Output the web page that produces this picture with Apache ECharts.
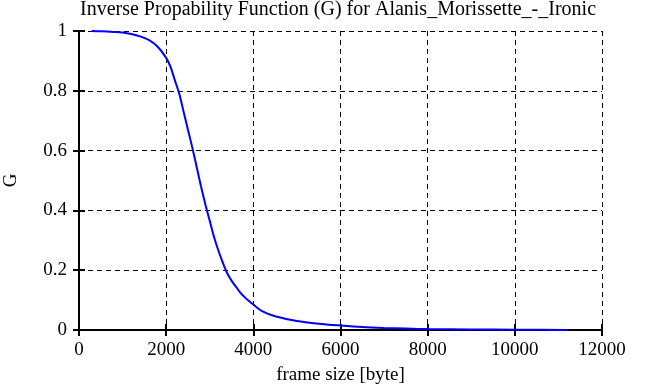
<!DOCTYPE html>
<html><head><meta charset="utf-8">
<script src="https://cdn.jsdelivr.net/npm/echarts@6/dist/echarts.min.js"></script>
<style>html,body{margin:0;padding:0;background:#fff}#c{width:668px;height:385px}</style>
</head><body><div id="c"></div>
<script>
var titleText = "Inverse Propability Function (G) for Alanis_Morissette_-_Ironic";
var xTicks = [0, 2000, 4000, 6000, 8000, 10000, 12000];
var yTicks = [0, 0.2, 0.4, 0.6, 0.8, 1];
var frameSize = [290, 500, 800, 1000, 1200, 1400, 1600, 1800, 2000, 2100, 2200, 2300, 2400, 2500, 2600, 2700, 2800, 2900, 3000, 3100, 3200, 3300, 3400, 3500, 3600, 3700, 3800, 3900, 4000, 4200, 4500, 5000, 5500, 6000, 6500, 7000, 7500, 8000, 9000, 10000, 11200];
var gValue = [1.0, 0.999, 0.997, 0.995, 0.99, 0.982, 0.97, 0.948, 0.91, 0.88, 0.835, 0.79, 0.73, 0.67, 0.61, 0.545, 0.48, 0.42, 0.365, 0.31, 0.265, 0.225, 0.19, 0.165, 0.145, 0.125, 0.11, 0.097, 0.085, 0.063, 0.046, 0.03, 0.021, 0.015, 0.01, 0.007, 0.005, 0.003, 0.002, 0.001, 0.0];

var pts = frameSize.map(function (x, i) { return [x, gValue[i]]; });
var font = "Liberation Serif";
var chart = echarts.init(document.getElementById('c'), null, {renderer: 'canvas'});
var xMin = xTicks[0], xMax = xTicks[xTicks.length - 1], xInt = xTicks[1] - xTicks[0];
var yMin = yTicks[0], yMax = yTicks[yTicks.length - 1], yInt = yTicks[1] - yTicks[0];
var axisLine = {show: true, lineStyle: {color: '#000', width: 2}};
var tick = {show: true, inside: true, length: 6, lineStyle: {color: '#000', width: 2}};
chart.setOption({
  animation: false,
  title: {text: titleText, left: 338, top: 0, padding: 0, textAlign: 'center',
    textStyle: {fontFamily: font, fontSize: 20, fontWeight: 'normal', color: '#000', lineHeight: 20}},
  grid: {left: 79, right: 66, top: 31, bottom: 55, containLabel: false, outerBoundsMode: 'none'},
  xAxis: [{
    type: 'value', min: xMin, max: xMax, interval: xInt, position: 'bottom',
    name: 'frame size [byte]', nameLocation: 'middle', nameGap: 36,
    nameTextStyle: {fontFamily: font, fontSize: 19, color: '#000'},
    axisLine: axisLine, axisTick: tick,
    axisLabel: {fontFamily: font, fontSize: 19, color: '#000', margin: 11,
      formatter: function (v) { return String(v); }},
    splitLine: {show: true, lineStyle: {color: '#000', type: [5, 4], width: 1}}
  }, {
    type: 'value', min: xMin, max: xMax, interval: xInt, position: 'top',
    axisLine: axisLine, axisTick: tick,
    axisLabel: {show: false}, splitLine: {show: false}
  }],
  yAxis: [{
    type: 'value', min: yMin, max: yMax, interval: yInt, position: 'left',
    name: 'G', nameLocation: 'middle', nameGap: 58, nameRotate: 90,
    nameTextStyle: {fontFamily: font, fontSize: 19, color: '#000'},
    axisLine: axisLine, axisTick: tick,
    axisLabel: {fontFamily: font, fontSize: 19, color: '#000', margin: 12,
      formatter: function (v) { return String(v); }},
    splitLine: {show: true, lineStyle: {color: '#000', type: [5, 4], width: 1}}
  }, {
    type: 'value', min: yMin, max: yMax, interval: yInt, position: 'right',
    axisLine: axisLine, axisTick: tick,
    axisLabel: {show: false}, splitLine: {show: false}
  }],
  series: [{
    type: 'line', data: pts, xAxisIndex: 0, yAxisIndex: 0,
    showSymbol: false, smooth: 0.3,
    lineStyle: {color: '#0000ff', width: 2}, itemStyle: {color: '#0000ff'}
  }]
});
</script></body></html>
